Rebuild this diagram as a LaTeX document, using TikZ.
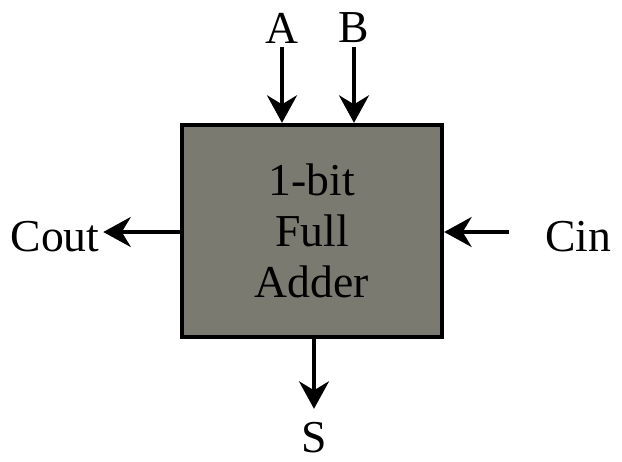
\documentclass[tikz,border=0pt]{standalone}
\usepackage{fontspec}
\setmainfont{Liberation Serif}
\usetikzlibrary{positioning, arrows.meta}
\definecolor{boxgray}{RGB}{122,122,112}
\tikzset{
  lbl/.style={font=\fontsize{26}{31}\selectfont, inner sep=2pt},
  adder/.style={draw, line width=2.5pt, fill=boxgray, minimum width=5.2cm, minimum height=4.24cm, align=center, font=\fontsize{26}{29}\selectfont},
  arr/.style={-{Stealth[length=5.5mm, width=6mm, inset=1.8mm]}, line width=2pt}
}
\begin{document}
\begin{tikzpicture}[x=0.02cm, y=-0.02cm]
\useasboundingbox (0,0) rectangle (622,461);
\node[adder] (fa) at (312,231) {1-bit\\Full\\Adder};
\node[lbl] (a) at (282,28) {A};
\node[lbl] (b) at (354,28) {B};
\node[lbl] (cout) at (55,237) {Cout};
\node[lbl] (cin) at (578,237) {Cin};
\node[lbl] (s) at (314,438) {S};
\draw[arr] (a.south) -- (a.south |- fa.north);
\draw[arr] (b.south) -- (b.south |- fa.north);
\draw[arr] (fa.west |- 0,232) -- (cout.east |- 0,232);
\draw[arr, shorten <=6.5mm] (cin.west |- 0,232) -- (fa.east |- 0,232);
\draw[arr, shorten >=2mm] (fa.south -| s.north) -- (s.north);
\end{tikzpicture}
\end{document}
